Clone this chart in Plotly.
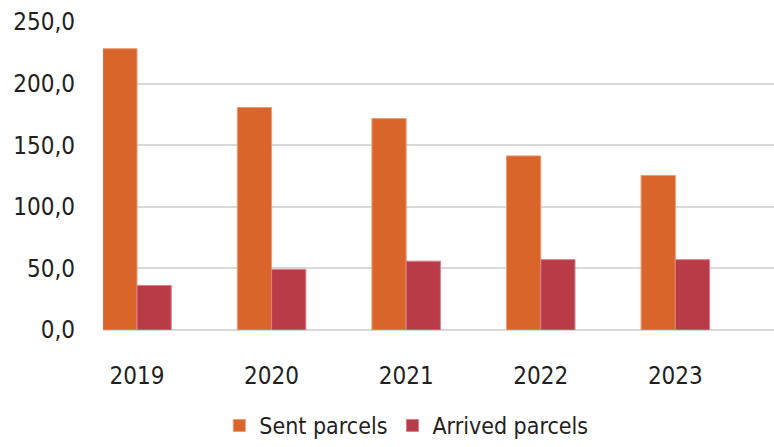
import plotly.graph_objects as go

years = ["2019", "2020", "2021", "2022", "2023"]
sent_parcels = [228.3, 180.6, 171.6, 141.3, 125.5]
arrived_parcels = [36.2, 49.2, 55.9, 57.1, 57.1]

FONT = "DejaVu Sans Condensed, Liberation Sans Narrow, sans-serif"
TEXT = "#231f20"
GRID = "#d9d9d9"

fig = go.Figure()
fig.add_trace(go.Bar(
    x=years, y=sent_parcels, name="Sent parcels",
    marker=dict(color="#d9652b", line=dict(color="#eb9a73", width=1)),
))
fig.add_trace(go.Bar(
    x=years, y=arrived_parcels, name="Arrived parcels",
    marker=dict(color="#ba3b48", line=dict(color="#d9808a", width=1)),
))

fig.update_layout(
    width=774, height=447,
    margin=dict(l=103, r=0, t=22, b=112),
    paper_bgcolor="white", plot_bgcolor="white",
    barmode="group", bargap=0.491, bargroupgap=0,
    separators=", ",
    font=dict(family=FONT, size=24, color=TEXT),
    showlegend=True,
    legend=dict(
        orientation="h", x=0.452, xanchor="center", y=-0.31, yanchor="middle",
        font=dict(family=FONT, size=23, color=TEXT),
        itemwidth=30, tracegroupgap=0,
    ),
)
fig.update_xaxes(
    type="category", range=[-0.2526, 4.733],
    showgrid=False, showline=False, ticks="",
    ticklabelstandoff=29,
    tickfont=dict(family=FONT, size=24, color=TEXT),
)
fig.update_yaxes(
    range=[0, 250], dtick=50, tickformat=".1f",
    showgrid=True, gridcolor=GRID, gridwidth=1.5,
    zeroline=True, zerolinecolor=GRID, zerolinewidth=1.5,
    showline=False, ticks="",
    ticklabelstandoff=27,
    tickfont=dict(family=FONT, size=24, color=TEXT),
)

fig.write_html("out.html")
